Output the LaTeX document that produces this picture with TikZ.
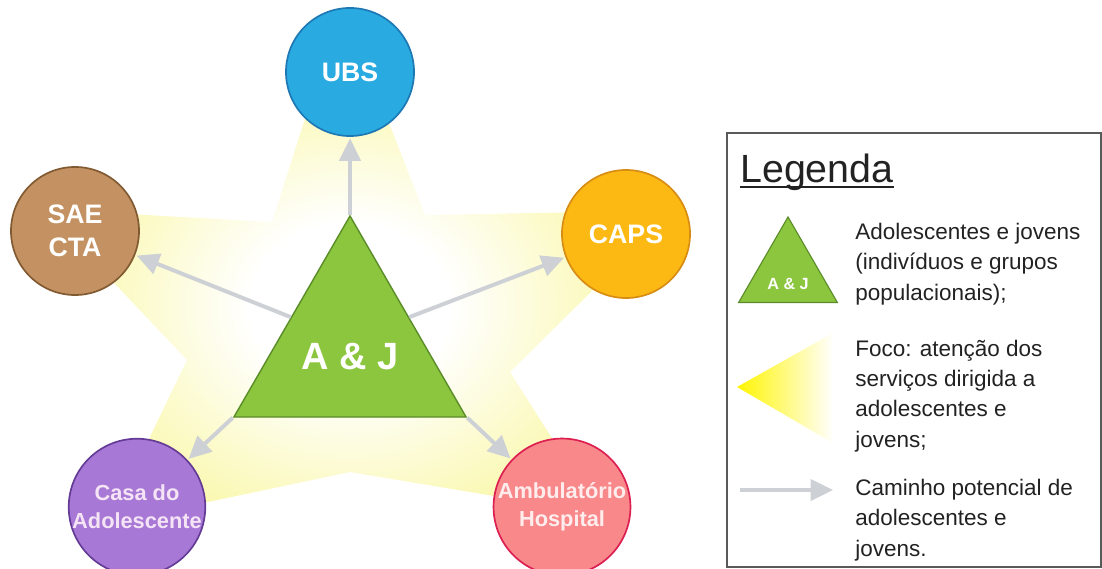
\documentclass[tikz,border=0pt]{standalone}
\usepackage{fontspec}
\setmainfont{Liberation Sans}
\usetikzlibrary{shapes.geometric}
\usetikzlibrary{arrows.meta, positioning}
\definecolor{ubsfill}{RGB}{41,171,226}
\definecolor{ubsborder}{RGB}{30,120,180}
\definecolor{saefill}{RGB}{196,146,98}
\definecolor{saeborder}{RGB}{130,90,50}
\definecolor{capsfill}{RGB}{253,185,19}
\definecolor{capsborder}{RGB}{215,140,20}
\definecolor{casafill}{RGB}{168,120,214}
\definecolor{casaborder}{RGB}{100,60,150}
\definecolor{ambfill}{RGB}{248,136,138}
\definecolor{ambborder}{RGB}{220,30,80}
\definecolor{ajfill}{RGB}{140,198,63}
\definecolor{ajborder}{RGB}{90,140,40}
\definecolor{arrowgray}{RGB}{205,208,212}
\definecolor{glowcolor}{RGB}{248,245,140}
\definecolor{keyyellow}{RGB}{255,245,0}
\definecolor{legendgray}{RGB}{90,90,90}
\definecolor{inktext}{RGB}{34,34,34}
\pgfdeclareradialshading{starglow}{\pgfpoint{0bp}{0bp}}{color(0bp)=(white); color(10bp)=(white); color(36bp)=(glowcolor); color(50bp)=(glowcolor)}

\begin{document}
\begin{tikzpicture}[x=0.025cm, y=-0.025cm,
    service/.style={circle, draw, line width=1.2pt, minimum size=3.2cm, inner sep=0pt,
        text=white, align=center, font=\bfseries\fontsize{19}{23.5}\selectfont},
    smallservice/.style={service, font=\bfseries\fontsize{15.5}{20}\selectfont},
    flow/.style={-{Triangle[length=16pt, width=15pt]}, draw=arrowgray, line width=2.8pt, shorten >=1pt},
    keytext/.style={inner sep=0pt, anchor=west, align=left, text=inktext,
        font=\fontsize{16}{21.5}\selectfont}]
    \useasboundingbox (0,0) rectangle (1102,569);

    % Draw the glow star behind everything
    \shade[shading=starglow] (311,100) -- (272,222) -- (110,213) -- (100,268) -- (187,360)
        -- (134,470) -- (170,510) -- (350,472) -- (530,502) -- (572,470) -- (510,372)
        -- (600,283) -- (590,212) -- (425,215) -- (380,100) -- cycle;

    % Draw the services
    \node[service, fill=ubsfill, draw=ubsborder] (ubs) at (350,72) {UBS};
    \node[service, fill=saefill, draw=saeborder] (sae) at (75,231) {SAE\\CTA};
    \node[service, fill=capsfill, draw=capsborder] (caps) at (626,234) {CAPS};
    \node[smallservice, fill=casafill, draw=casaborder, text={rgb,255:red,245;green,228;blue,245}] (casa) at (137,507) {Casa do\\Adolescente};
    \node[smallservice, fill=ambfill, draw=ambborder, text={rgb,255:red,255;green,236;blue,236}] (amb) at (562,507) {Ambulatório\\Hospital};

    % Draw the central triangle
    \node[regular polygon, regular polygon sides=3, minimum size=6.7cm, inner sep=0pt,
        fill=ajfill, draw=ajborder, line width=1pt] (aj) at (350,350) {};
    \node[text=white, font=\bfseries\fontsize{27}{30}\selectfont] (ajlabel) at (350,357) {A \& J};

    % Draw the paths
    \draw[flow] (aj.corner 1) -- (ubs);
    \draw[flow] (aj.151) -- (sae);
    \draw[flow] (aj.29) -- (caps);
    \draw[flow] (aj.corner 2) -- (casa);
    \draw[flow] (aj.corner 3) -- (amb);

    % Legend
    \draw[legendgray, line width=1.2pt] (727,133) rectangle (1101,567);
    \node[inner sep=0pt, anchor=base west, text=inktext, font=\fontsize{28}{32}\selectfont] (title) at (740,183) {Legenda};
    \draw[inktext, line width=1.3pt] ([yshift=-3pt]title.base west) -- ([yshift=-3pt]title.base east);

    \node[regular polygon, regular polygon sides=3, minimum size=2.85cm, inner sep=0pt,
        fill=ajfill, draw=ajborder, line width=0.8pt] (keytri) at (788,274) {};
    \node[text=white, font=\bfseries\fontsize{11.5}{13}\selectfont] (keytrilabel) at (788,284) {A \& J};
    \node[keytext] (key1) at (855,264) {Adolescentes e jovens\\(indivíduos e grupos\\populacionais);};

    \shade[left color=keyyellow, right color=white] (737,387) -- (833,333) -- (833,443) -- cycle;
    \node[keytext] (key2) at (855,396) {Foco: atenção dos\\serviços dirigida a\\adolescentes e\\jovens;};

    \coordinate (keyfrom) at (740,490);
    \coordinate (keyto) at (833,490);
    \draw[flow, shorten >=0pt] (keyfrom) -- (keyto);
    \node[keytext] (key3) at (855,520) {Caminho potencial de\\adolescentes e\\jovens.};
\end{tikzpicture}
\end{document}
